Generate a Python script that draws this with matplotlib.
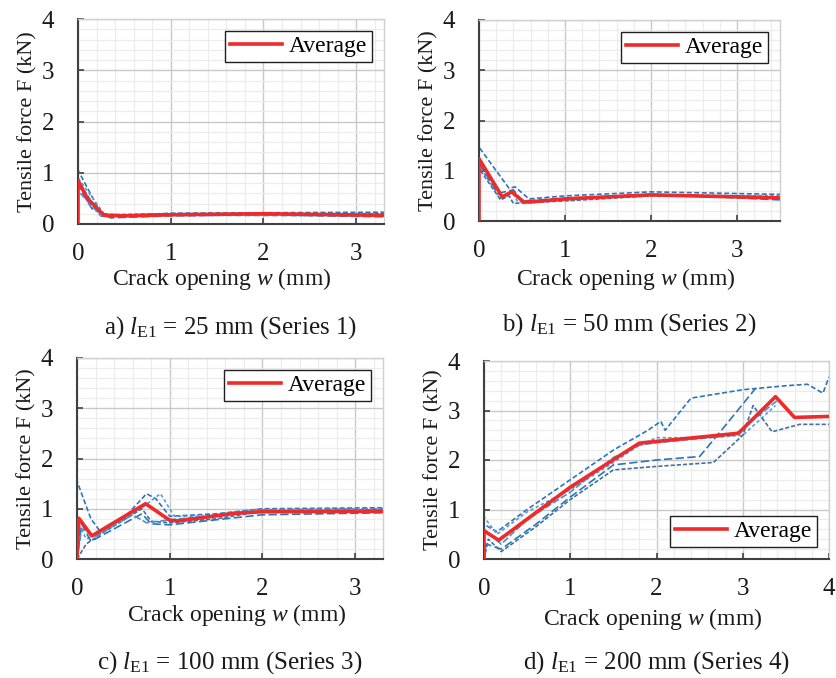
import matplotlib
matplotlib.use("Agg")
import matplotlib.pyplot as plt
from matplotlib.ticker import MultipleLocator

plt.rcParams['font.family'] = ['Liberation Serif', 'DejaVu Serif']
plt.rcParams['mathtext.fontset'] = 'custom'
plt.rcParams['mathtext.rm'] = 'Liberation Serif'
plt.rcParams['mathtext.it'] = 'Liberation Serif:italic'

# ---------------- data ----------------
# Series 1 (l_E1 = 25 mm)
a_avg_w = [0, 0, 0.1, 0.28, 0.5, 1.0, 2.0, 3.3]
a_avg_f = [0, 0.85, 0.5, 0.17, 0.16, 0.18, 0.2, 0.17]
a_spec = [
    ([0, 0, 0.25, 0.5, 1.0, 2.0, 3.3], [0, 1.05, 0.2, 0.17, 0.21, 0.22, 0.23]),
    ([0, 0, 0.3, 0.6, 1.0, 2.0, 3.3], [0, 0.9, 0.15, 0.15, 0.18, 0.2, 0.17]),
    ([0, 0, 0.15, 0.35, 1.0, 2.0, 3.3], [0, 0.75, 0.3, 0.12, 0.16, 0.18, 0.14]),
    ([0, 0, 0.2, 0.3, 1.0, 2.0, 3.3], [0, 0.85, 0.28, 0.18, 0.2, 0.2, 0.2]),
    ([0, 0, 0.25, 1.0, 3.3], [0, 0.65, 0.15, 0.17, 0.16]),
]
# Series 2 (l_E1 = 50 mm)
b_avg_w = [0, 0, 0.27, 0.38, 0.52, 0.6, 1.0, 2.0, 3.5]
b_avg_f = [0, 1.24, 0.48, 0.58, 0.38, 0.38, 0.44, 0.52, 0.46]
b_spec = [
    ([0, 0, 0.2, 0.35, 0.42, 0.58, 1.0, 2.0, 3.5], [0, 1.47, 1.0, 0.65, 0.68, 0.44, 0.5, 0.58, 0.53]),
    ([0, 0, 0.25, 0.38, 0.45, 1.0, 2.0, 3.5], [0, 1.1, 0.45, 0.6, 0.38, 0.42, 0.52, 0.5]),
    ([0, 0, 0.22, 0.4, 0.5, 1.0, 2.0, 3.0, 3.5], [0, 1.15, 0.55, 0.62, 0.4, 0.45, 0.53, 0.46, 0.42]),
    ([0, 0, 0.25, 0.35, 0.4, 1.0, 2.0, 3.5], [0, 1.05, 0.42, 0.5, 0.35, 0.4, 0.5, 0.48]),
]
# Series 3 (l_E1 = 100 mm)
c_avg_w = [0, 0.02, 0.16, 0.74, 1.0, 1.1, 1.7, 2.0, 3.3]
c_avg_f = [0, 0.81, 0.46, 1.1, 0.77, 0.76, 0.91, 0.94, 0.95]
c_spec = [
    ([0, 0, 0.15, 0.25, 0.5, 0.75, 0.85, 1.0, 1.5, 2.0, 3.3], [0, 1.55, 0.8, 0.55, 0.8, 1.3, 1.2, 0.85, 0.9, 1.0, 1.02]),
    ([0, 0, 0.1, 0.3, 0.65, 0.9, 1.05, 1.5, 2.0, 3.3], [0, 0.75, 0.4, 0.55, 0.95, 1.3, 0.85, 0.85, 0.95, 0.95]),
    ([0, 0.05, 0.15, 0.6, 0.7, 0.8, 1.0, 1.5, 2.0, 3.3], [0, 0.7, 0.35, 0.8, 0.9, 0.7, 0.68, 0.78, 0.88, 0.92]),
    ([0, 0.1, 0.3, 0.7, 0.8, 1.0, 1.5, 2.0, 3.3], [0, 0.3, 0.55, 1.0, 0.75, 0.72, 0.8, 0.95, 0.98]),
    ([0, 0.05, 0.2, 0.6, 0.75, 1.0, 1.4, 1.9, 3.3], [0, 0.6, 0.45, 0.88, 0.72, 0.78, 0.85, 0.98, 1.0]),
]
# Series 4 (l_E1 = 200 mm)
d_avg_w = [0, 0, 0.17, 1.0, 1.8, 2.95, 3.38, 3.6, 4.0]
d_avg_f = [0, 0.57, 0.38, 1.45, 2.34, 2.54, 3.28, 2.86, 2.88]
d_spec = [
    ([0, 0, 0.15, 0.5, 1.0, 1.5, 1.9, 2.05, 2.1, 2.4, 3.0, 3.5, 3.75, 3.93, 4.0],
     [0, 0.7, 0.55, 1.0, 1.6, 2.2, 2.6, 2.78, 2.6, 3.25, 3.42, 3.5, 3.53, 3.35, 3.68]),
    ([0, 0, 0.15, 0.5, 1.0, 1.5, 1.8, 2.0, 2.6, 3.0, 3.38], [0, 0.85, 0.5, 0.95, 1.4, 1.95, 2.3, 2.45, 2.45, 2.5, 3.1]),
    ([0, 0.03, 0.2, 0.6, 1.0, 1.5, 2.0, 2.5, 2.8, 3.15], [0, 0.3, 0.2, 0.7, 1.25, 1.9, 2.0, 2.07, 2.7, 3.45]),
    ([0, 0.05, 0.2, 0.6, 1.0, 1.5, 2.0, 2.66, 3.0, 3.12, 3.34, 3.66, 4.0],
     [0, 0.4, 0.15, 0.65, 1.2, 1.8, 1.87, 1.95, 2.5, 3.1, 2.57, 2.72, 2.72]),
    ([0, 0, 0.2, 0.5, 1.0, 1.5, 1.8, 2.0, 2.9, 3.4], [0, 0.6, 0.3, 0.8, 1.35, 2.05, 2.3, 2.35, 2.5, 3.2]),
]

captions = ["a) $l_{\\mathrm{E1}}$ = 25 mm (Series 1)",
            "b) $l_{\\mathrm{E1}}$ = 50 mm (Series 2)",
            "c) $l_{\\mathrm{E1}}$ = 100 mm (Series 3)",
            "d) $l_{\\mathrm{E1}}$ = 200 mm (Series 4)"]
xmaxs = [3.3, 3.5, 3.3, 4.0]
legend_locs = ['upper right', 'upper right', 'upper right', 'lower right']

panels = [(a_avg_w, a_avg_f, a_spec), (b_avg_w, b_avg_f, b_spec),
          (c_avg_w, c_avg_f, c_spec), (d_avg_w, d_avg_f, d_spec)]

# ---------------- layout ----------------
fig = plt.figure(figsize=(8.36, 6.78), dpi=100)
pos = [
    (78, 384, 19, 224),
    (479, 780, 20, 221),
    (77, 383, 358, 559),
    (484, 829, 361, 559),
]
xlabel_shift = [-9, -4, 7, -4]
xlabel_top = [266, 266, 602, 606]
W, H = 836, 678
blues = ['#2e75b6', '#5b9bd5', '#2e75b6', '#41719c', '#4a90d0']
dashes = [(3, 1.5), (2, 1.5), (5, 2), (2.5, 1.2), (4, 1.5)]

for i, ((aw, af, specs), (l, r, t, b)) in enumerate(zip(panels, pos)):
    ax = fig.add_axes([l / W, 1 - b / H, (r - l) / W, (b - t) / H])
    for j, (sw, sf) in enumerate(specs):
        ax.plot(sw, sf, color=blues[j % len(blues)], lw=1.2,
                dashes=dashes[j % len(dashes)], zorder=2)
    ax.plot(aw, af, color='#ee2a2a', lw=2.6, label='Average', zorder=3)
    ax.set_xlim(0, xmaxs[i])
    ax.set_ylim(0, 4)
    ax.xaxis.set_major_locator(MultipleLocator(1))
    ax.yaxis.set_major_locator(MultipleLocator(1))
    ax.xaxis.set_minor_locator(MultipleLocator(0.2))
    ax.yaxis.set_minor_locator(MultipleLocator(0.2))
    ax.grid(which='major', color='#c8c8c8', lw=1.0, zorder=0)
    ax.grid(which='minor', color='#ececec', lw=0.9, zorder=0)
    ax.set_axisbelow(True)
    ax.tick_params(which='major', direction='in', length=4, width=1.2,
                   colors='#404040', labelcolor='#1a1a1a', labelsize=18)
    ax.tick_params(axis='x', which='major', pad=14)
    ax.tick_params(axis='y', which='major', pad=17)
    ax.tick_params(which='minor', length=0)
    for s in ['left', 'bottom']:
        ax.spines[s].set_color('#404040')
        ax.spines[s].set_linewidth(1.5)
    for s in ['top', 'right']:
        ax.spines[s].set_color('#d0d0d0')
        ax.spines[s].set_linewidth(1.0)
    ax.set_xlabel('Crack opening $w$ (mm)', fontsize=17, color='#1a1a1a', labelpad=0)
    ax.xaxis.set_label_coords(0.5 + xlabel_shift[i] / (r - l), -(xlabel_top[i] - b) / (b - t))
    ax.set_ylabel('Tensile force F (kN)', fontsize=16, color='#1a1a1a', labelpad=3)
    leg = ax.legend(loc=legend_locs[i], fontsize=17, fancybox=False,
                    edgecolor='#202020', framealpha=1, handlelength=2.2,
                    borderaxespad=0.5, borderpad=0.2, handletextpad=0.3)
    leg.get_frame().set_linewidth(1.0)
    cx = (l + r) / 2 / W
    cy = 1 - (b + 104) / H
    fig.text(cx, cy, captions[i], ha='center', va='center', fontsize=18, color='#1a1a1a')

fig.savefig('out.png', dpi=100)
